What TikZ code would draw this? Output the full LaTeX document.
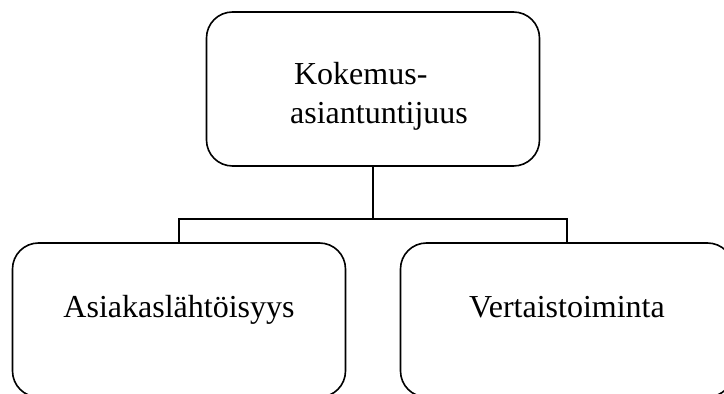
\documentclass[tikz,border=0pt]{standalone}
\usepackage{fontspec}
\setmainfont{Liberation Serif}
\usetikzlibrary{positioning, calc}

\begin{document}
\begin{tikzpicture}[x=1pt, y=1pt, line width=1.6pt,
            topicbox/.style={draw, rounded corners=26pt, minimum width=333pt, minimum height=154pt,
                font=\fontsize{32}{39}\selectfont, inner sep=0pt},
            link/.style={draw, line width=1.4pt}]
            \useasboundingbox (0,0) rectangle (724,394);

            % Main topic
            \node[topicbox, align=left, text height=77pt, text depth=7pt] (kokemus) at (373,305) {\hspace*{16pt}Kokemus-\\\hspace*{12pt}asiantuntijuus};

            % Sub topics
            \node[topicbox, text height=22pt, text depth=26pt] (asiakas) at (179,74) {Asiakaslähtöisyys};
            \node[topicbox, text height=22pt, text depth=26pt] (vertais) at (567,74) {Vertaistoiminta};

            % Connectors
            \coordinate (split) at (373,175);
            \path[link] (kokemus.south) -- (split);
            \path[link] (asiakas.north) |- (split) -| (vertais.north);
        \end{tikzpicture}
\end{document}
